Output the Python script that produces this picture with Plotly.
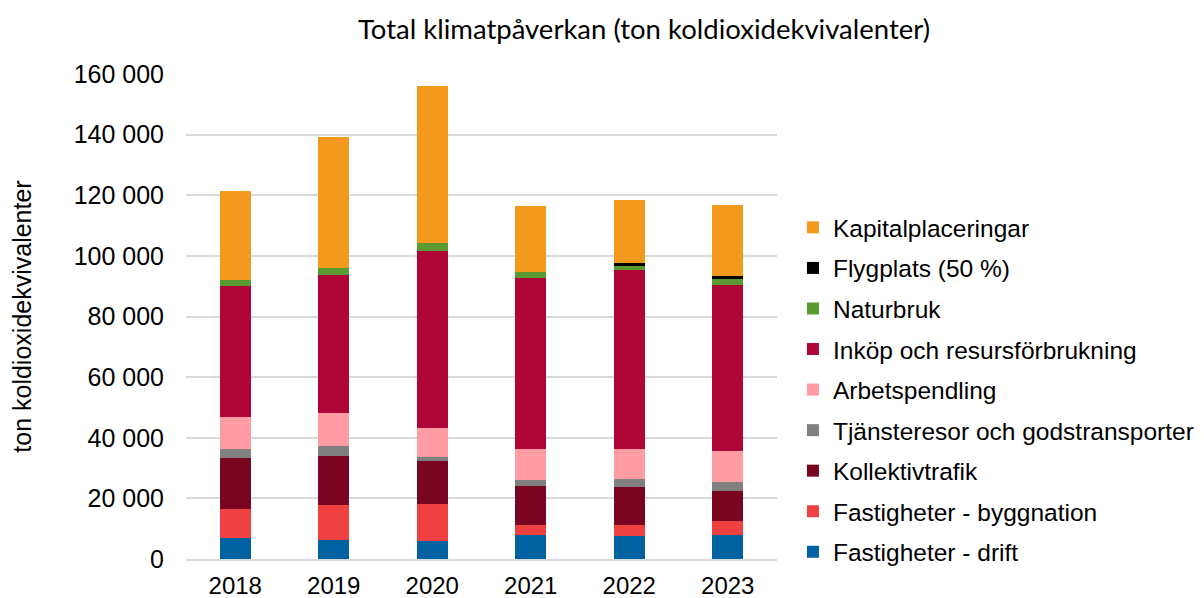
import plotly.graph_objects as go

years = ["2018", "2019", "2020", "2021", "2022", "2023"]

fastigheter_drift = [6800, 6400, 6000, 7900, 7600, 7900]
fastigheter_byggnation = [9700, 11400, 12100, 3300, 3600, 4700]
kollektivtrafik = [16700, 16300, 14100, 13000, 12700, 9900]
tjansteresor = [3100, 3200, 1600, 1800, 2400, 2800]
arbetspendling = [10700, 10800, 9500, 10400, 10100, 10300]
inkop = [42900, 45500, 58300, 56300, 58800, 54800]
naturbruk = [2300, 2300, 2500, 2000, 1600, 1900]
flygplats = [0, 0, 0, 0, 700, 900]
kapitalplaceringar = [29300, 43300, 51900, 21800, 21000, 23700]

series = [
    ("Fastigheter - drift", fastigheter_drift, "#0062A0"),
    ("Fastigheter - byggnation", fastigheter_byggnation, "#EF4142"),
    ("Kollektivtrafik", kollektivtrafik, "#7A0520"),
    ("Tjänsteresor och godstransporter", tjansteresor, "#808080"),
    ("Arbetspendling", arbetspendling, "#FF9CA3"),
    ("Inköp och resursförbrukning", inkop, "#AE0637"),
    ("Naturbruk", naturbruk, "#5A9A32"),
    ("Flygplats (50 %)", flygplats, "#000000"),
    ("Kapitalplaceringar", kapitalplaceringar, "#F39A1E"),
]

fig = go.Figure()
n = len(series)
for i, (name, vals, color) in enumerate(series):
    fig.add_trace(go.Bar(
        x=years, y=vals, name=name, legendgroup=name,
        legendrank=n - i,
        marker=dict(color=color, line=dict(width=0)),
    ))

W, H = 1196, 590  # page body has an 8px margin

fig.update_layout(
    barmode="stack",
    bargap=0.69,
    width=W, height=H,
    paper_bgcolor="white", plot_bgcolor="white",
    separators=", ",
    margin=dict(l=178, r=427, t=66, b=39, autoexpand=False),
    title=dict(
        text="Total klimatpåverkan (ton koldioxidekvivalenter)",
        x=636 / W, xref="container", xanchor="center",
        y=1 - 21 / H, yref="container", yanchor="middle",
        font=dict(family="Lato", size=27.5, color="#000000"),
    ),
    font=dict(family="Liberation Sans, Arial", size=24, color="#000000"),
    legend=dict(
        x=1.027, xanchor="left", y=0.73, yanchor="top",
        traceorder="grouped",
        tracegroupgap=5.7,
        font=dict(family="Liberation Sans, Arial", size=24.5, color="#000000"),
        itemwidth=30,
    ),
    xaxis=dict(
        showgrid=False, showline=True, linecolor="#D9D9D9", linewidth=1.5,
        ticks="", tickfont=dict(size=24), automargin=False,
        ticklabelstandoff=4,
    ),
    yaxis=dict(
        range=[0, 160000], dtick=20000, tickformat=",d",
        showgrid=True, gridcolor="#D9D9D9", gridwidth=1.5,
        zeroline=False, showline=False, ticks="",
        tickfont=dict(size=25), automargin=False,
        ticklabelstandoff=21,
        title=dict(text="ton koldioxidekvivalenter", font=dict(size=25), standoff=35),
    ),
)

fig.write_html("out.html")
